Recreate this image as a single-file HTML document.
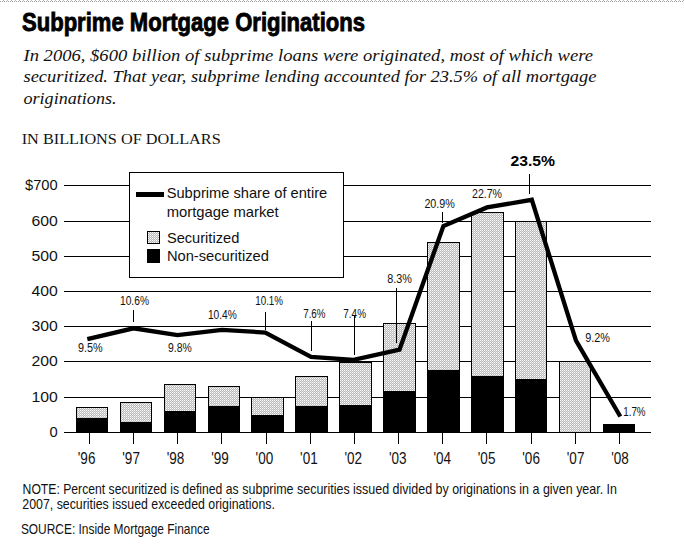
<!DOCTYPE html>
<html><head><meta charset="utf-8"><style>
html,body{margin:0;padding:0;background:#fff;width:684px;height:552px;overflow:hidden;position:relative}
</style></head><body>
<svg width="684" height="552" viewBox="0 0 684 552" style="position:absolute;left:0;top:0">
<defs>
<pattern id="chk" patternUnits="userSpaceOnUse" x="0" y="0" width="2" height="2">
<rect width="2" height="2" fill="#bababa"/>
<rect width="1" height="1" fill="#ffffff"/><rect x="1" y="1" width="1" height="1" fill="#dedede"/>
</pattern>
<pattern id="dots0" patternUnits="userSpaceOnUse" x="0" y="0" width="4" height="2">
<rect x="3" width="1" height="2" fill="#b8b8b8"/>
</pattern>
<pattern id="dots" patternUnits="userSpaceOnUse" x="0" y="0" width="2" height="2">
<rect width="1" height="2" fill="#a0a0a0"/>
</pattern>
</defs>
<rect x="0" y="1" width="684" height="1" fill="url(#dots)" shape-rendering="crispEdges"/>
<rect x="0" y="0" width="684" height="1" fill="url(#dots0)" shape-rendering="crispEdges"/>
<text x="22" y="31" font-family="Liberation Sans" font-weight="bold" font-size="25" textLength="343" lengthAdjust="spacingAndGlyphs" fill="#000" stroke="#000" stroke-width="0.85">Subprime Mortgage Originations</text>
<text x="23.5" y="60.7" font-family="Liberation Serif" font-style="italic" font-size="16.5" textLength="569.5" lengthAdjust="spacingAndGlyphs" fill="#111">In 2006, $600 billion of subprime loans were originated, most of which were</text>
<text x="23.5" y="82.4" font-family="Liberation Serif" font-style="italic" font-size="16.5" textLength="573" lengthAdjust="spacingAndGlyphs" fill="#111">securitized. That year, subprime lending accounted for 23.5% of all mortgage</text>
<text x="23.5" y="104.1" font-family="Liberation Serif" font-style="italic" font-size="16.5" textLength="93" lengthAdjust="spacingAndGlyphs" fill="#111">originations.</text>
<text x="21.7" y="143.7" font-family="Liberation Serif" font-size="15.6" textLength="199" lengthAdjust="spacingAndGlyphs" fill="#111">IN BILLIONS OF DOLLARS</text>
<rect x="64" y="185" width="587" height="1" fill="#000" shape-rendering="crispEdges"/>
<rect x="64" y="221" width="587" height="1" fill="#000" shape-rendering="crispEdges"/>
<rect x="64" y="256" width="587" height="1" fill="#000" shape-rendering="crispEdges"/>
<rect x="64" y="291" width="587" height="1" fill="#000" shape-rendering="crispEdges"/>
<rect x="64" y="326" width="587" height="1" fill="#000" shape-rendering="crispEdges"/>
<rect x="64" y="361" width="587" height="1" fill="#000" shape-rendering="crispEdges"/>
<rect x="64" y="397" width="587" height="1" fill="#000" shape-rendering="crispEdges"/>
<rect x="64" y="432" width="587" height="1" fill="#000" shape-rendering="crispEdges"/>
<text x="25.0" y="189.6" font-family="Liberation Sans" font-size="15" textLength="32.7" lengthAdjust="spacingAndGlyphs" fill="#111">$700</text>
<text x="31.4" y="225.6" font-family="Liberation Sans" font-size="15" textLength="26.3" lengthAdjust="spacingAndGlyphs" fill="#111">600</text>
<text x="31.4" y="260.6" font-family="Liberation Sans" font-size="15" textLength="26.3" lengthAdjust="spacingAndGlyphs" fill="#111">500</text>
<text x="31.4" y="295.6" font-family="Liberation Sans" font-size="15" textLength="26.3" lengthAdjust="spacingAndGlyphs" fill="#111">400</text>
<text x="31.4" y="330.6" font-family="Liberation Sans" font-size="15" textLength="26.3" lengthAdjust="spacingAndGlyphs" fill="#111">300</text>
<text x="31.4" y="365.6" font-family="Liberation Sans" font-size="15" textLength="26.3" lengthAdjust="spacingAndGlyphs" fill="#111">200</text>
<text x="31.4" y="401.6" font-family="Liberation Sans" font-size="15" textLength="26.3" lengthAdjust="spacingAndGlyphs" fill="#111">100</text>
<text x="49.5" y="436.6" font-family="Liberation Sans" font-size="15" textLength="8.2" lengthAdjust="spacingAndGlyphs" fill="#111">0</text>
<rect x="76" y="407" width="32" height="25" fill="#000" shape-rendering="crispEdges"/>
<rect x="77" y="408" width="30" height="10" fill="url(#chk)" shape-rendering="crispEdges"/>
<rect x="120" y="402" width="32" height="30" fill="#000" shape-rendering="crispEdges"/>
<rect x="121" y="403" width="30" height="19" fill="url(#chk)" shape-rendering="crispEdges"/>
<rect x="164" y="384" width="32" height="48" fill="#000" shape-rendering="crispEdges"/>
<rect x="165" y="385" width="30" height="26" fill="url(#chk)" shape-rendering="crispEdges"/>
<rect x="208" y="386" width="32" height="46" fill="#000" shape-rendering="crispEdges"/>
<rect x="209" y="387" width="30" height="19" fill="url(#chk)" shape-rendering="crispEdges"/>
<rect x="251" y="397" width="33" height="35" fill="#000" shape-rendering="crispEdges"/>
<rect x="252" y="398" width="31" height="17" fill="url(#chk)" shape-rendering="crispEdges"/>
<rect x="295" y="376" width="33" height="56" fill="#000" shape-rendering="crispEdges"/>
<rect x="296" y="377" width="31" height="29" fill="url(#chk)" shape-rendering="crispEdges"/>
<rect x="339" y="362" width="33" height="70" fill="#000" shape-rendering="crispEdges"/>
<rect x="340" y="363" width="31" height="42" fill="url(#chk)" shape-rendering="crispEdges"/>
<rect x="383" y="323" width="33" height="109" fill="#000" shape-rendering="crispEdges"/>
<rect x="384" y="324" width="31" height="67" fill="url(#chk)" shape-rendering="crispEdges"/>
<rect x="427" y="242" width="33" height="190" fill="#000" shape-rendering="crispEdges"/>
<rect x="428" y="243" width="31" height="127" fill="url(#chk)" shape-rendering="crispEdges"/>
<rect x="471" y="212" width="33" height="220" fill="#000" shape-rendering="crispEdges"/>
<rect x="472" y="213" width="31" height="163" fill="url(#chk)" shape-rendering="crispEdges"/>
<rect x="515" y="221" width="32" height="211" fill="#000" shape-rendering="crispEdges"/>
<rect x="516" y="222" width="30" height="157" fill="url(#chk)" shape-rendering="crispEdges"/>
<rect x="559" y="361" width="32" height="71" fill="#000" shape-rendering="crispEdges"/>
<rect x="560" y="362" width="30" height="70" fill="url(#chk)" shape-rendering="crispEdges"/>
<rect x="603" y="424" width="32" height="8" fill="#000" shape-rendering="crispEdges"/>
<rect x="89" y="432" width="1" height="12" fill="#000" shape-rendering="crispEdges"/>
<rect x="133" y="432" width="1" height="12" fill="#000" shape-rendering="crispEdges"/>
<rect x="177" y="432" width="1" height="12" fill="#000" shape-rendering="crispEdges"/>
<rect x="221" y="432" width="1" height="12" fill="#000" shape-rendering="crispEdges"/>
<rect x="266" y="432" width="1" height="12" fill="#000" shape-rendering="crispEdges"/>
<rect x="310" y="432" width="1" height="12" fill="#000" shape-rendering="crispEdges"/>
<rect x="354" y="432" width="1" height="12" fill="#000" shape-rendering="crispEdges"/>
<rect x="398" y="432" width="1" height="12" fill="#000" shape-rendering="crispEdges"/>
<rect x="442" y="432" width="1" height="12" fill="#000" shape-rendering="crispEdges"/>
<rect x="486" y="432" width="1" height="12" fill="#000" shape-rendering="crispEdges"/>
<rect x="531" y="432" width="1" height="12" fill="#000" shape-rendering="crispEdges"/>
<rect x="575" y="432" width="1" height="12" fill="#000" shape-rendering="crispEdges"/>
<rect x="619" y="432" width="1" height="12" fill="#000" shape-rendering="crispEdges"/>
<text x="77.8" y="463.7" font-family="Liberation Sans" font-size="16" textLength="17.6" lengthAdjust="spacingAndGlyphs" fill="#111">'96</text>
<text x="122.3" y="463.7" font-family="Liberation Sans" font-size="16" textLength="17.6" lengthAdjust="spacingAndGlyphs" fill="#111">'97</text>
<text x="166.7" y="463.7" font-family="Liberation Sans" font-size="16" textLength="17.6" lengthAdjust="spacingAndGlyphs" fill="#111">'98</text>
<text x="211.2" y="463.7" font-family="Liberation Sans" font-size="16" textLength="17.6" lengthAdjust="spacingAndGlyphs" fill="#111">'99</text>
<text x="255.6" y="463.7" font-family="Liberation Sans" font-size="16" textLength="17.6" lengthAdjust="spacingAndGlyphs" fill="#111">'00</text>
<text x="300.1" y="463.7" font-family="Liberation Sans" font-size="16" textLength="17.6" lengthAdjust="spacingAndGlyphs" fill="#111">'01</text>
<text x="344.5" y="463.7" font-family="Liberation Sans" font-size="16" textLength="17.6" lengthAdjust="spacingAndGlyphs" fill="#111">'02</text>
<text x="388.9" y="463.7" font-family="Liberation Sans" font-size="16" textLength="17.6" lengthAdjust="spacingAndGlyphs" fill="#111">'03</text>
<text x="433.4" y="463.7" font-family="Liberation Sans" font-size="16" textLength="17.6" lengthAdjust="spacingAndGlyphs" fill="#111">'04</text>
<text x="477.8" y="463.7" font-family="Liberation Sans" font-size="16" textLength="17.6" lengthAdjust="spacingAndGlyphs" fill="#111">'05</text>
<text x="522.3" y="463.7" font-family="Liberation Sans" font-size="16" textLength="17.6" lengthAdjust="spacingAndGlyphs" fill="#111">'06</text>
<text x="566.8" y="463.7" font-family="Liberation Sans" font-size="16" textLength="17.6" lengthAdjust="spacingAndGlyphs" fill="#111">'07</text>
<text x="611.2" y="463.7" font-family="Liberation Sans" font-size="16" textLength="17.6" lengthAdjust="spacingAndGlyphs" fill="#111">'08</text>
<rect x="133" y="310" width="1" height="12" fill="#000" shape-rendering="crispEdges"/>
<rect x="265" y="312" width="1" height="18" fill="#000" shape-rendering="crispEdges"/>
<rect x="311" y="321" width="1" height="30" fill="#000" shape-rendering="crispEdges"/>
<rect x="354" y="316" width="1" height="39" fill="#000" shape-rendering="crispEdges"/>
<rect x="396" y="288" width="1" height="55" fill="#000" shape-rendering="crispEdges"/>
<rect x="442" y="212" width="1" height="11" fill="#000" shape-rendering="crispEdges"/>
<rect x="529" y="174" width="1" height="20" fill="#000" shape-rendering="crispEdges"/>
<rect x="129.5" y="172.5" width="214" height="105" fill="#fff" stroke="#000" stroke-width="1"/>
<rect x="136" y="192" width="28" height="5" fill="#000"/>
<text x="166.7" y="197.6" font-family="Liberation Sans" font-size="14.5" textLength="160.5" lengthAdjust="spacingAndGlyphs" fill="#111">Subprime share of entire</text>
<text x="166.7" y="216.8" font-family="Liberation Sans" font-size="14.5" textLength="112" lengthAdjust="spacingAndGlyphs" fill="#111">mortgage market</text>
<rect x="147" y="231" width="13" height="13" fill="#000" shape-rendering="crispEdges"/>
<rect x="148" y="232" width="11" height="11" fill="url(#chk)" shape-rendering="crispEdges"/>
<rect x="147" y="249" width="13" height="14" fill="#000" shape-rendering="crispEdges"/>
<text x="166.9" y="243" font-family="Liberation Sans" font-size="14.5" textLength="72.4" lengthAdjust="spacingAndGlyphs" fill="#111">Securitized</text>
<text x="166.9" y="260.8" font-family="Liberation Sans" font-size="14.5" textLength="102" lengthAdjust="spacingAndGlyphs" fill="#111">Non-securitized</text>
<polyline points="87.3,339.2 133.5,328.3 177.5,335.2 222,329.9 265.3,332.5 311,357 353.6,359.8 399.5,349.7 443.4,226 487,207.4 531.8,199.8 576,340.7 620.3,416.5" fill="none" stroke="#000" stroke-width="4.3" stroke-linejoin="miter" stroke-linecap="butt"/>
<text x="78" y="352.0" font-family="Liberation Sans" font-size="12.5" textLength="24.7" lengthAdjust="spacingAndGlyphs" fill="#111">9.5%</text>
<text x="168" y="352.0" font-family="Liberation Sans" font-size="12.5" textLength="23.7" lengthAdjust="spacingAndGlyphs" fill="#111">9.8%</text>
<text x="120" y="304.9" font-family="Liberation Sans" font-size="12.5" textLength="29.0" lengthAdjust="spacingAndGlyphs" fill="#111">10.6%</text>
<text x="207.9" y="319.1" font-family="Liberation Sans" font-size="12.5" textLength="28.9" lengthAdjust="spacingAndGlyphs" fill="#111">10.4%</text>
<text x="255.3" y="304.9" font-family="Liberation Sans" font-size="12.5" textLength="27.7" lengthAdjust="spacingAndGlyphs" fill="#111">10.1%</text>
<text x="303.2" y="318.2" font-family="Liberation Sans" font-size="12.5" textLength="22.3" lengthAdjust="spacingAndGlyphs" fill="#111">7.6%</text>
<text x="343.3" y="318.2" font-family="Liberation Sans" font-size="12.5" textLength="22.7" lengthAdjust="spacingAndGlyphs" fill="#111">7.4%</text>
<text x="387.3" y="282.9" font-family="Liberation Sans" font-size="12.5" textLength="24.7" lengthAdjust="spacingAndGlyphs" fill="#111">8.3%</text>
<text x="424.4" y="208.4" font-family="Liberation Sans" font-size="12.5" textLength="30.5" lengthAdjust="spacingAndGlyphs" fill="#111">20.9%</text>
<text x="472" y="198.4" font-family="Liberation Sans" font-size="12.5" textLength="30.0" lengthAdjust="spacingAndGlyphs" fill="#111">22.7%</text>
<text x="585.2" y="342.2" font-family="Liberation Sans" font-size="12.5" textLength="24.8" lengthAdjust="spacingAndGlyphs" fill="#111">9.2%</text>
<text x="623.2" y="415.9" font-family="Liberation Sans" font-size="12.5" textLength="22.4" lengthAdjust="spacingAndGlyphs" fill="#111">1.7%</text>
<text x="510.4" y="166" font-family="Liberation Sans" font-weight="bold" font-size="14" textLength="44.6" lengthAdjust="spacingAndGlyphs" fill="#000">23.5%</text>
<text x="22.6" y="494" font-family="Liberation Sans" font-size="14.5" textLength="216" lengthAdjust="spacingAndGlyphs" fill="#111">NOTE: Percent securitized is defined as</text>
<text x="242.3" y="494" font-family="Liberation Sans" font-size="14.5" textLength="374.7" lengthAdjust="spacingAndGlyphs" fill="#111">subprime securities issued divided by originations in a given year. In</text>
<text x="22.3" y="509.4" font-family="Liberation Sans" font-size="14.5" textLength="252.6" lengthAdjust="spacingAndGlyphs" fill="#111">2007, securities issued exceeded originations.</text>
<text x="20.9" y="533.5" font-family="Liberation Sans" font-size="14.5" textLength="188.8" lengthAdjust="spacingAndGlyphs" fill="#111">SOURCE: Inside Mortgage Finance</text>
</svg>
</body></html>
